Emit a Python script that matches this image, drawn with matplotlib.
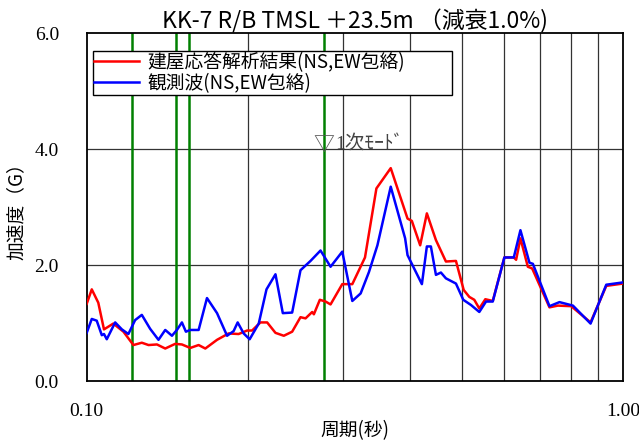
import matplotlib
matplotlib.use('Agg')
import matplotlib.pyplot as plt

plt.rcParams['font.family'] = ['Noto Sans CJK JP', 'DejaVu Sans']

# ── Data (period [s], acceleration [G]) ───────────────────────────────────────
period_calc = [0.100, 0.1022, 0.1051, 0.1077, 0.1121, 0.1171, 0.1222, 0.1267,
               0.1304, 0.1352, 0.1401, 0.1462, 0.1505, 0.1560, 0.1617, 0.1664,
               0.1750, 0.1839, 0.1920, 0.1991, 0.2034, 0.2108, 0.2170, 0.2249,
               0.2331, 0.2416, 0.2504, 0.2559, 0.2633, 0.2652, 0.2721, 0.2789,
               0.2849, 0.2996, 0.3128, 0.3303, 0.3469, 0.3689, 0.3965, 0.4039,
               0.4186, 0.4308, 0.4479, 0.4675, 0.4881, 0.5046, 0.5169, 0.5281,
               0.5396, 0.5537, 0.5717, 0.6009, 0.6257, 0.6320, 0.6438, 0.6646,
               0.6771, 0.7293, 0.7561, 0.8006, 0.8700, 0.9307, 1.000]
accel_calc = [1.33, 1.58, 1.35, 0.89, 0.99, 0.85, 0.62, 0.66,
              0.62, 0.63, 0.56, 0.64, 0.63, 0.57, 0.62, 0.56,
              0.71, 0.82, 0.81, 0.87, 0.87, 1.01, 1.01, 0.83,
              0.78, 0.85, 1.10, 1.08, 1.19, 1.15, 1.40, 1.37,
              1.32, 1.67, 1.67, 2.13, 3.32, 3.67, 2.80, 2.76,
              2.34, 2.89, 2.43, 2.06, 2.07, 1.57, 1.45, 1.40,
              1.25, 1.41, 1.38, 2.13, 2.13, 2.09, 2.46, 1.97,
              1.94, 1.27, 1.30, 1.29, 1.01, 1.64, 1.68]

period_obs = [0.100, 0.1022, 0.1044, 0.1067, 0.1077, 0.1090, 0.1130, 0.1163,
              0.1196, 0.1231, 0.1267, 0.1313, 0.1361, 0.1401, 0.1442, 0.1473,
              0.1505, 0.1531, 0.1560, 0.1617, 0.1676, 0.1750, 0.1827, 0.1879,
              0.1912, 0.1962, 0.2013, 0.2093, 0.2164, 0.2249, 0.2321, 0.2416,
              0.2504, 0.2614, 0.2729, 0.2849, 0.2996, 0.3128, 0.3242, 0.3360,
              0.3484, 0.3689, 0.3924, 0.3965, 0.4217, 0.4308, 0.4383, 0.4479,
              0.4576, 0.4675, 0.4881, 0.5037, 0.5207, 0.5396, 0.5554, 0.5717,
              0.6009, 0.6257, 0.6438, 0.6692, 0.6791, 0.7293, 0.7613, 0.8065,
              0.8700, 0.9307, 1.000]
accel_obs = [0.83, 1.07, 1.04, 0.79, 0.81, 0.72, 1.01, 0.89,
             0.81, 1.05, 1.14, 0.90, 0.71, 0.88, 0.78, 0.88,
             1.01, 0.85, 0.88, 0.88, 1.43, 1.17, 0.78, 0.86,
             1.01, 0.82, 0.72, 0.99, 1.58, 1.84, 1.17, 1.18,
             1.91, 2.07, 2.25, 1.97, 2.23, 1.38, 1.51, 1.88,
             2.34, 3.35, 2.46, 2.17, 1.67, 2.32, 2.32, 1.83,
             1.87, 1.77, 1.68, 1.40, 1.31, 1.19, 1.37, 1.37,
             2.13, 2.13, 2.60, 2.04, 2.02, 1.29, 1.36, 1.30,
             0.99, 1.66, 1.70]

# building natural periods (green markers), last one is the 1st mode
mode_periods = [0.1217, 0.1468, 0.1551, 0.2768]

series_labels = ['建屋応答解析結果(NS,EW包絡)', '観測波(NS,EW包絡)']
x_ticks = [0.1, 1.0]
x_ticklabels = ['0.10', '1.00']
y_ticks = [0.0, 2.0, 4.0, 6.0]
y_ticklabels = ['0.0', '2.0', '4.0', '6.0']
grid_periods = [0.2, 0.3, 0.4, 0.5, 0.6, 0.7, 0.8, 0.9]

# ── Figure ────────────────────────────────────────────────────────────────────
fig = plt.figure(figsize=(6.39, 4.44), dpi=100)
ax = fig.add_axes([86.7 / 639, 1 - 381 / 444, (623 - 86.7) / 639, 348 / 444])

ax.set_xscale('log')
ax.set_xlim(0.1, 1.0)
ax.set_ylim(0, 6)

# grid
for g in grid_periods:
    ax.axvline(g, color='#333333', linewidth=0.9, zorder=1)
for yv in y_ticks[1:-1]:
    ax.axhline(yv, color='#333333', linewidth=0.9, zorder=1)

# mode lines
for mp in mode_periods:
    ax.axvline(mp, color='#008000', linewidth=1.8, zorder=2)

ax.plot(period_calc, accel_calc, color='#ff0000', linewidth=1.8,
        label=series_labels[0], zorder=3)
ax.plot(period_obs, accel_obs, color='#0000ff', linewidth=1.8,
        label=series_labels[1], zorder=4)

# 1st mode annotation
ax.annotate('▽', xy=(mode_periods[-1], 4.0), xytext=(0, -1),
            textcoords='offset points', ha='center', va='baseline',
            fontsize=15, color='#555555', zorder=5)
ax.annotate('1次ﾓｰﾄﾞ', xy=(mode_periods[-1], 4.0), xytext=(8, 0),
            textcoords='offset points', ha='left', va='baseline',
            fontsize=14, color='#444444', zorder=5,
            family=['Liberation Serif', 'Noto Sans CJK JP'])

# ticks
ax.set_xticks(x_ticks)
ax.set_xticklabels(x_ticklabels, family='Liberation Serif', fontsize=14)
ax.xaxis.set_minor_locator(matplotlib.ticker.NullLocator())
ax.set_yticks(y_ticks)
ax.set_yticklabels(y_ticklabels, family='Liberation Serif', fontsize=14)
ax.tick_params(axis='x', length=0, pad=16)
ax.tick_params(axis='y', length=0, pad=20)

for s in ax.spines.values():
    s.set_linewidth(1.3)
    s.set_color('black')

ax.set_title('KK-7 R/B TMSL ＋23.5m （減衰1.0%)', fontsize=16.5, pad=1)
ax.set_xlabel('周期(秒)', fontsize=13.5, labelpad=0)
ax.set_ylabel('加速度（G）', fontsize=13.5, labelpad=6)

# legend box stretched to the reference width
leg = ax.legend(loc='upper left', bbox_to_anchor=(0.0117, 0.0, 0.669, 0.948),
                mode='expand', borderaxespad=0, fontsize=13.5, frameon=True,
                fancybox=False, framealpha=1, edgecolor='black',
                handlelength=2.4, handletextpad=0.45, labelspacing=0.0,
                borderpad=0.05)
leg.get_frame().set_linewidth(1.0)

fig.savefig('out.png', dpi=100)
